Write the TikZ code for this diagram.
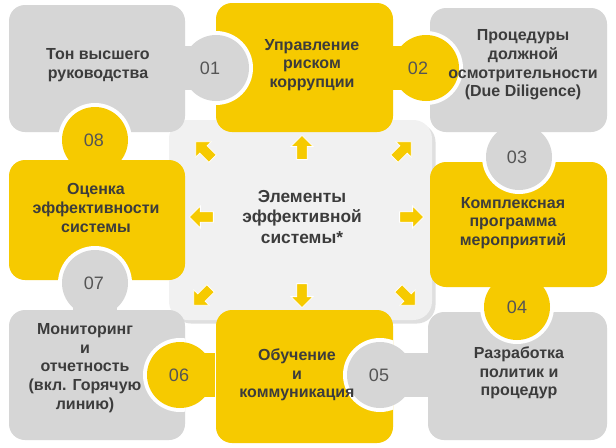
\documentclass[tikz,border=0pt]{standalone}
\usepackage{fontspec}
\setmainfont{Liberation Sans}
\usetikzlibrary{shapes.arrows,shadows}
\definecolor{yel}{RGB}{246,202,0}
\definecolor{gry}{RGB}{214,214,214}
\definecolor{txt}{RGB}{60,60,60}
\definecolor{num}{RGB}{85,85,85}
\begin{document}
\begin{tikzpicture}[x=0.75pt,y=-0.75pt,
  piece/.style={rounded corners=12pt},
  lbl/.style={font=\bfseries\fontsize{12}{14}\selectfont,text=txt,align=center},
  nm/.style={font=\fontsize{13.5}{15}\selectfont,text=num},
  arr/.style={single arrow,fill=yel,draw=white,line width=0.6pt,minimum height=24pt*0.75,minimum width=22pt*0.75,single arrow head extend=2pt,inner sep=1.5pt}]
\useasboundingbox (0,0) rectangle (616,447);
\fill[white] (0,0) rectangle (616,447);
% center
\fill[gry!35,rounded corners=14pt,drop shadow={opacity=0.25}] (169,120) rectangle (432,320);
% pieces
\fill[gry,piece] (9,5) rectangle (185,132);
\fill[yel,piece] (216,3) rectangle (393,132);
\fill[gry,piece] (430,8) rectangle (607,132);
\fill[yel,piece] (9,160) rectangle (185,280);
\fill[yel,piece] (430,162) rectangle (607,287);
\fill[gry,piece] (9,310) rectangle (185,440);
\fill[yel,piece] (216,310) rectangle (393,443);
\fill[gry,piece] (428,312) rectangle (607,440);
% knobs: white ring clipped to the host piece, neck, circle
\foreach \cx/\cy/\nx/\ny/\w/\h/\c/\ax/\ay/\bx/\by in {
  216/68/185/46/31/44/gry/216/3/393/132,
  426/68/393/46/33/44/yel/430/8/607/132,
  519/157/497/132/44/25/gry/430/162/607/287,
  517/307/495/287/44/20/yel/428/312/607/440,
  380/375/380/353/48/44/gry/216/310/393/443,
  180/375/185/353/30/44/yel/9/310/185/440,
  95/283/73/283/44/28/gry/9/160/185/280,
  95/140/73/140/44/20/yel/9/5/185/132}{
  \begin{scope}
    \clip (\ax,\ay) rectangle (\bx,\by);
    \fill[white] (\cx,\cy) circle[radius=37];
  \end{scope}
  \fill[\c] (\nx,\ny) rectangle ++(\w,\h);
  \fill[\c] (\cx,\cy) circle[radius=33];
}
% arrows
\node[arr,rotate=90] (aN) at (302,150) {};
\node[arr,rotate=-90] (aS) at (302,293) {};
\node[arr] (aE) at (409,217) {};
\node[arr,rotate=180] (aW) at (204,217) {};
\node[arr,rotate=45] (aNE) at (401,152) {};
\node[arr,rotate=135] (aNW) at (206,152) {};
\node[arr,rotate=-135] (aSW) at (204,295) {};
\node[arr,rotate=-45] (aSE) at (405,295) {};
% labels
\node[lbl,font=\bfseries\fontsize{13}{15.5}\selectfont] (c) at (302,217) {Элементы\\эффективной\\системы*};
\node[lbl] (t1) at (98,65) {Тон высшего\\руководства};
\node[lbl] (t2) at (312,65) {Управление\\риском\\коррупции};
\node[lbl] (t3) at (523,65) {Процедуры\\должной\\осмотрительности\\(Due Diligence)};
\node[lbl] (t4) at (513,223) {Комплексная\\программа\\мероприятий};
\node[lbl] (t5) at (519,373) {Разработка\\политик и\\процедур};
\node[lbl] (t6) at (297,375) {Обучение\\и\\коммуникация};
\node[lbl] (t7) at (85,368) {Мониторинг\\и\\отчетность\\(вкл. Горячую\\линию)};
\node[lbl] (t8) at (96,208) {Оценка\\эффективности\\системы};
\node[nm] at (210,68) {01};
\node[nm] at (418,68) {02};
\node[nm] at (517,157) {03};
\node[nm] at (517,307) {04};
\node[nm] at (379,375) {05};
\node[nm] at (179,375) {06};
\node[nm] at (94,283) {07};
\node[nm] at (94,140) {08};
\end{tikzpicture}
\end{document}
